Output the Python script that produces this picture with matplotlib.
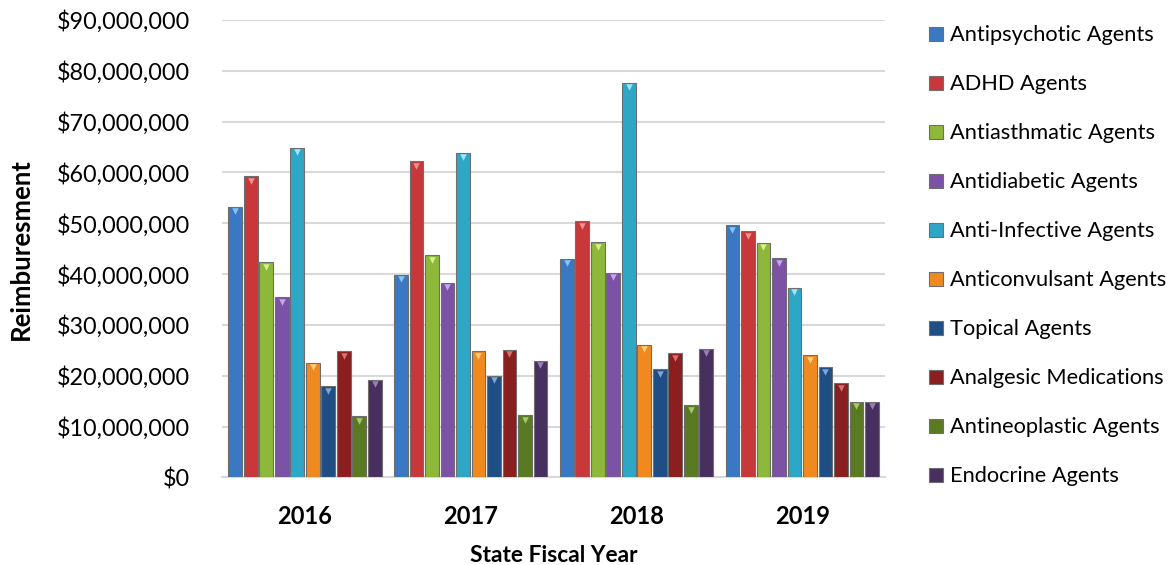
import numpy as np
import matplotlib.pyplot as plt
from matplotlib.ticker import FuncFormatter

plt.rcParams['font.family'] = ['Lato', 'DejaVu Sans']

# datos (millones de dolares)
years = ['2016', '2017', '2018', '2019']
categories = ['Antipsychotic Agents', 'ADHD Agents', 'Antiasthmatic Agents',
              'Antidiabetic Agents', 'Anti-Infective Agents', 'Anticonvulsant Agents',
              'Topical Agents', 'Analgesic Medications', 'Antineoplastic Agents',
              'Endocrine Agents']
antipsychotic = [53.3, 39.9, 43.0, 49.6]
adhd = [59.3, 62.2, 50.4, 48.4]
antiasthmatic = [42.4, 43.7, 46.3, 46.2]
antidiabetic = [35.5, 38.3, 40.3, 43.1]
anti_infective = [64.9, 63.9, 77.7, 37.3]
anticonvulsant = [22.6, 24.8, 26.1, 24.0]
topical = [17.9, 20.0, 21.3, 21.7]
analgesic = [24.8, 25.1, 24.5, 18.6]
antineoplastic = [12.1, 12.3, 14.2, 14.9]
endocrine = [19.2, 23.0, 25.3, 14.9]

series = [antipsychotic, adhd, antiasthmatic, antidiabetic, anti_infective,
          anticonvulsant, topical, analgesic, antineoplastic, endocrine]
colors = ['#3A78C3', '#C8373A', '#8DB83A', '#7B52A6', '#2EA6C6',
          '#F08A1E', '#1F4E85', '#8B1E1E', '#5A7A22', '#47305F']
tips = ['#8EC3F0', '#F09090', '#D6F08A', '#C6A6EC', '#9AE8F6',
        '#FFD080', '#7FA6D6', '#D87070', '#A8C870', '#9A80BA']

fig = plt.figure(figsize=(11.71, 5.65), dpi=100)
ax = fig.add_axes([0.1896, 0.1549, 0.5662, 0.8097])

x = np.arange(len(years))
step = 0.0935
width = 0.083
for i, (vals, c, t, name) in enumerate(zip(series, colors, tips, categories)):
    pos = x + (i - 4.5) * step
    v = np.array(vals) * 1e6
    ax.bar(pos, v, width=width, color=c, edgecolor='#6E6E6E', linewidth=0.8,
           label=name, zorder=3)
    ax.scatter(pos, v - 0.9e6, marker='v', s=22, color=t, zorder=4, linewidths=0)

ax.set_xlim(-0.5, 3.5)
ax.set_ylim(0, 90e6)
ax.set_yticks(np.arange(0, 90e6 + 1, 10e6))
ax.yaxis.set_major_formatter(FuncFormatter(lambda v, p: '${:,.0f}'.format(v)))
ax.set_xticks(x)
ax.set_xticklabels(years, fontsize=17, fontweight='bold')
ax.tick_params(axis='y', labelsize=16.8, length=0, pad=23)
ax.tick_params(axis='x', length=0, pad=20)
ax.grid(axis='y', color='#D9D9D9', linewidth=1.5, zorder=0)
for s in ['top', 'right', 'left']:
    ax.spines[s].set_visible(False)
ax.spines['bottom'].set_color('#D9D9D9')
ax.spines['bottom'].set_linewidth(1.5)

ax.set_ylabel('Reimburesment', fontsize=18.5, fontweight='bold', labelpad=17)
ax.set_xlabel('State Fiscal Year', fontsize=16.4, fontweight='bold', labelpad=12)

fig.legend(loc='upper left', bbox_to_anchor=(0.777, 0.99), frameon=False,
           fontsize=15.7, handlelength=0.6, handleheight=0.6, handletextpad=0.35,
           labelspacing=1.33)

fig.savefig('out.png', dpi=100)
